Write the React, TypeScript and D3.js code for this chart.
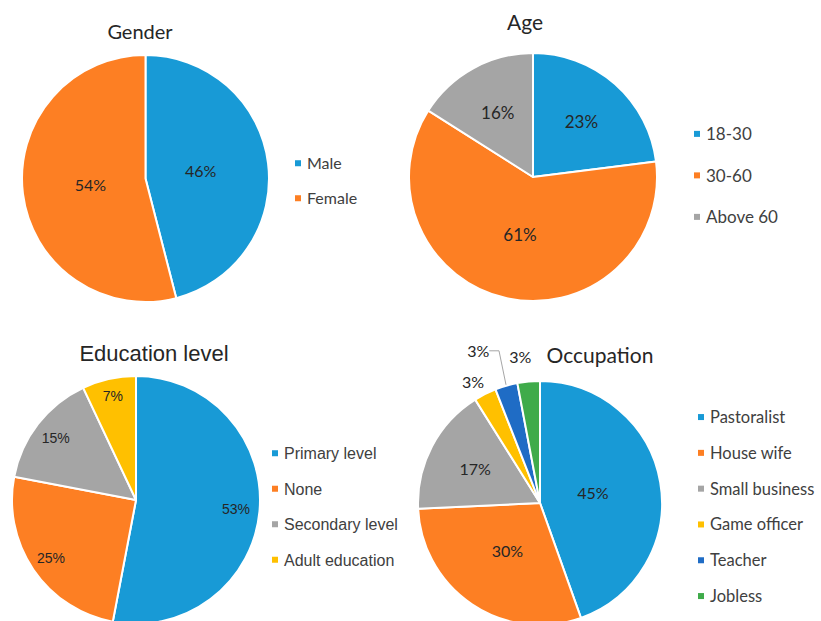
import React from 'react';
import * as d3 from 'd3';

const genderLabels = ['Male', 'Female'];
const genderValues = [46, 54];

const ageLabels = ['18-30', '30-60', 'Above 60'];
const ageValues = [23, 61, 16];

const eduLabels = ['Primary level', 'None', 'Secondary level', 'Adult education'];
const eduValues = [53, 25, 15, 7];

const occLabels = ['Pastoralist', 'House wife', 'Small business', 'Game officer', 'Teacher', 'Jobless'];
const occValues = [45, 30, 17, 3, 3, 3];

const palette = ['#189ad6', '#fd7f23', '#a5a5a5', '#ffc000', '#1f6cc5', '#3fab4a'];

const CAL = 'Lato, "Open Sans", sans-serif';
const ARIAL = '"Liberation Sans", Arial, sans-serif';

type PieProps = {
  cx: number;
  cy: number;
  r: number;
  labels: string[];
  values: number[];
  title: string;
  titleX: number;
  titleY: number;
  titleSize: number;
  font: string;
  legendX: number;
  legendY: number;
  legendStep: number;
  legendSize: number;
  labelSize: number;
  labelR: number[];
  labelNudge?: [number, number][];
  leader?: number;
};

const PieBlock = (p: PieProps) => {
  const pie = d3.pie<number>().sort(null).value(d => d);
  const arcs = pie(p.values);
  const arc = d3.arc<d3.PieArcDatum<number>>().innerRadius(0).outerRadius(p.r);

  return (
    <g>
      <text x={p.titleX} y={p.titleY} textAnchor="middle" fontFamily={p.font}
        fontSize={p.titleSize} fill="#262626">{p.title}</text>
      <g transform={`translate(${p.cx},${p.cy})`}>
        {arcs.map((a, i) => (
          <path key={i} d={arc(a) || ''} fill={palette[i]} stroke="#fff" strokeWidth={2} strokeLinejoin="round" />
        ))}
        {arcs.map((a, i) => {
          const mid = (a.startAngle + a.endAngle) / 2;
          const rr = p.r * p.labelR[i];
          const nudge = p.labelNudge ? p.labelNudge[i] : [0, 0];
          const x = Math.sin(mid) * rr + nudge[0];
          const y = -Math.cos(mid) * rr + nudge[1];
          let leader = null;
          if (p.leader === i) {
            const ex = Math.sin(mid) * (p.r + 1);
            const ey = -Math.cos(mid) * (p.r + 1);
            const ly = y - p.labelSize * 0.05;
            leader = (
              <polyline points={`${x + 11},${ly} ${ex - 7},${ly} ${ex},${ey}`}
                fill="none" stroke="#a6a6a6" strokeWidth={1} />
            );
          }
          return (
            <g key={i}>
              {leader}
              <text x={x} y={y} dy="0.35em" textAnchor="middle" fontFamily={p.font}
                fontSize={p.labelSize} fill="#262626">{p.values[i]}%</text>
            </g>
          );
        })}
      </g>
      <g>
        {p.labels.map((l, i) => {
          const by = p.legendY + i * p.legendStep;
          return (
            <g key={l}>
              <rect x={p.legendX} y={by - p.legendSize * 0.36 - 3} width={6} height={6} fill={palette[i]} />
              <text x={p.legendX + 12} y={by} fontFamily={p.font} fontSize={p.legendSize} fill="#404040">{l}</text>
            </g>
          );
        })}
      </g>
    </g>
  );
};

export default function App() {
  return (
    <svg width={821} height={621} style={{ position: 'absolute', left: 0, top: 0, background: '#fff' }}>
      <PieBlock cx={145.5} cy={178.5} r={123.5} labels={genderLabels} values={genderValues}
        title="Gender" titleX={140} titleY={39} titleSize={20} font={CAL}
        legendX={295} legendY={169} legendStep={35} legendSize={16}
        labelSize={16} labelR={[0.45, 0.45]} />
      <PieBlock cx={533} cy={177} r={124} labels={ageLabels} values={ageValues}
        title="Age" titleX={525} titleY={30} titleSize={21} font={CAL}
        legendX={694} legendY={140} legendStep={41.5} legendSize={17}
        labelSize={17} labelR={[0.59, 0.48, 0.59]} />
      <PieBlock cx={136} cy={500} r={124} labels={eduLabels} values={eduValues}
        title="Education level" titleX={154} titleY={361} titleSize={22} font={ARIAL}
        legendX={272} legendY={459} legendStep={35.5} legendSize={16}
        labelSize={14} labelR={[0.81, 0.83, 0.82, 0.86]} />
      <PieBlock cx={540} cy={503} r={122} labels={occLabels} values={occValues}
        title="Occupation" titleX={600} titleY={363} titleSize={21} font={CAL}
        legendX={698} legendY={423} legendStep={35.8} legendSize={16.5}
        labelSize={16} labelR={[0.44, 0.48, 0.6, 1.13, 1.24, 1.2]}
        labelNudge={[[0, 0], [0, 0], [0, 0], [-5, 3], [-20, -6], [-6, 0]]} leader={4} />
    </svg>
  );
}
